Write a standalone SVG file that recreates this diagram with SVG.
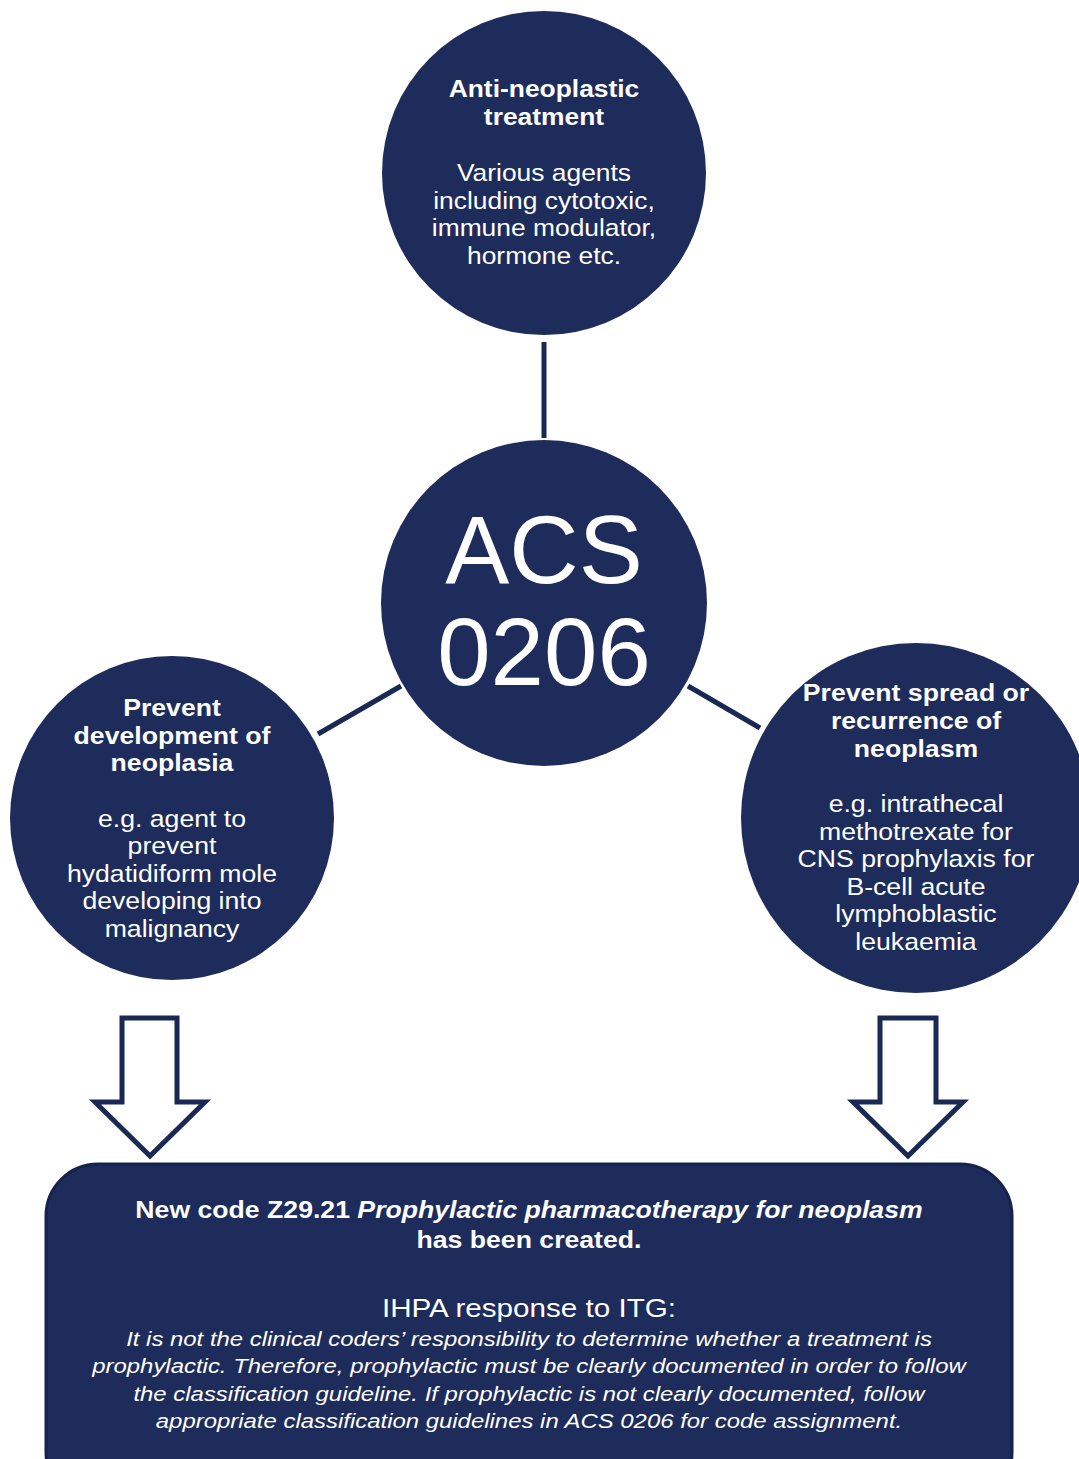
<svg xmlns="http://www.w3.org/2000/svg" width="1079" height="1459" viewBox="0 0 1079 1459">
<style>
.node{fill:#1e2c5b;}
.t{font-family:"Liberation Sans",Arial,sans-serif;fill:#ffffff;text-anchor:middle;}
.b{font-weight:bold;font-size:24px;}
.r{font-size:24px;}
.conn{stroke:#1a2854;stroke-width:5;fill:none;}
.arrow{fill:#ffffff;stroke:#1a2854;stroke-width:5;stroke-linejoin:miter;}
</style>
<rect width="1079" height="1459" fill="#ffffff"/>
<g id="connectors">
<line class="conn" x1="544" y1="342" x2="544" y2="438"/>
<line class="conn" x1="318" y1="734" x2="401" y2="686"/>
<line class="conn" x1="688" y1="686" x2="760" y2="728"/>
<path class="arrow" d="M122,1018 H177 V1102 H205 L150,1156 L95,1102 H122 Z"/>
<path class="arrow" d="M880,1018 H936 V1102 H963 L908,1156 L853,1102 H880 Z"/>
</g>
<g id="top">
<circle class="node" cx="544" cy="173" r="162"/>
<g transform="matrix(1.1,0,0,1,-54.4,0)">
<text class="t b" x="544" y="97">Anti-neoplastic</text>
<text class="t b" x="544" y="125">treatment</text>
<text class="t r" x="544" y="181">Various agents</text>
<text class="t r" x="544" y="209">including cytotoxic,</text>
<text class="t r" x="544" y="236">immune modulator,</text>
<text class="t r" x="544" y="264">hormone etc.</text>
</g>
</g>
<g id="center">
<circle class="node" cx="544" cy="603" r="163"/>
<text class="t" x="544" y="583" font-size="96">ACS</text>
<text class="t" x="544" y="685" font-size="96">0206</text>
</g>
<g id="left">
<circle class="node" cx="172" cy="818" r="162"/>
<g transform="matrix(1.11,0,0,1,-18.92,0)">
<text class="t b" x="172" y="716">Prevent</text>
<text class="t b" x="172" y="744">development of</text>
<text class="t b" x="172" y="771">neoplasia</text>
<text class="t r" x="172" y="827">e.g. agent to</text>
<text class="t r" x="172" y="854">prevent</text>
<text class="t r" x="172" y="882">hydatidiform mole</text>
<text class="t r" x="172" y="909">developing into</text>
<text class="t r" x="172" y="937">malignancy</text>
</g>
</g>
<g id="right">
<circle class="node" cx="916" cy="818" r="175"/>
<g transform="matrix(1.11,0,0,1,-100.76,0)">
<text class="t b" x="916" y="701">Prevent spread or</text>
<text class="t b" x="916" y="729">recurrence of</text>
<text class="t b" x="916" y="757">neoplasm</text>
<text class="t r" x="916" y="812">e.g. intrathecal</text>
<text class="t r" x="916" y="840">methotrexate for</text>
<text class="t r" x="916" y="867">CNS prophylaxis for</text>
<text class="t r" x="916" y="895">B-cell acute</text>
<text class="t r" x="916" y="922">lymphoblastic</text>
<text class="t r" x="916" y="950">leukaemia</text>
</g>
</g>
<g id="bottom">
<rect class="node" x="46" y="1164" width="966" height="340" rx="52" ry="52" stroke="#16224c" stroke-width="3"/>
<g transform="matrix(1.11,0,0,1,-58.19,0)">
<text class="t b" x="529" y="1218">New code Z29.21 <tspan font-style="italic">Prophylactic pharmacotherapy for neoplasm</tspan></text>
<text class="t b" x="529" y="1248">has been created.</text>
</g>
<g transform="matrix(1.14,0,0,1,-74.06,0)">
<text class="t" x="529" y="1317" font-size="26">IHPA response to ITG:</text>
<text class="t" x="529" y="1346" font-size="21" font-style="italic">It is not the clinical coders’ responsibility to determine whether a treatment is</text>
<text class="t" x="529" y="1373" font-size="21" font-style="italic">prophylactic. Therefore, prophylactic must be clearly documented in order to follow</text>
<text class="t" x="529" y="1401" font-size="21" font-style="italic">the classification guideline. If prophylactic is not clearly documented, follow</text>
<text class="t" x="529" y="1428" font-size="21" font-style="italic">appropriate classification guidelines in ACS 0206 for code assignment.</text>
</g>
</g>
</svg>
